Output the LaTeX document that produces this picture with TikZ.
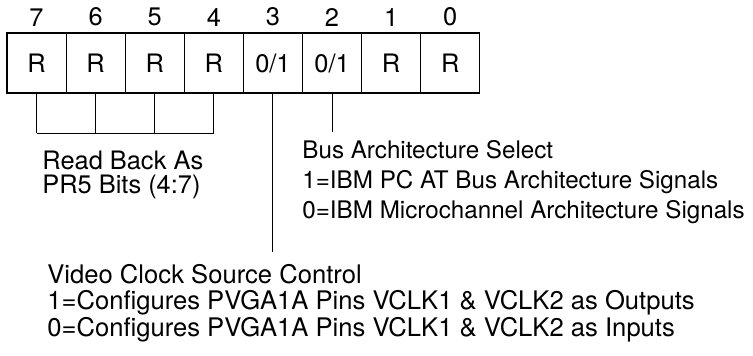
\documentclass[tikz,border=0pt]{standalone}
\usepackage{fontspec}
\setmainfont{TeX Gyre Heros}
\usetikzlibrary{positioning,calc}
\tikzset{
  bitcell/.style={draw, line width=0.6pt, minimum width=29.55pt, minimum height=30pt, inner sep=0pt},
  bitnum/.style={inner sep=0pt},
  lead/.style={line width=0.5pt},
  note/.style={inner sep=0pt, anchor=west, align=left}
}

\begin{document}
\begin{tikzpicture}[x=0.5pt, y=-0.5pt, font=\fontsize{12.7}{15}\selectfont]
\useasboundingbox (0,0) rectangle (753,355);
% register bits 7 .. 0
\foreach \b/\v [count=\i from 0] in {7/R,6/R,5/R,4/R,3/0\slash 1,2/0\slash 1,1/R,0/R} {
  \node[bitcell] (c\b) at ({7+59.1*(\i+0.5)},63) {\v};
  \node[bitnum, above=3pt of c\b] (n\b) {\b};
}
% bits 7-4 read back
\coordinate (r7) at (c7.south |- 0,133);
\coordinate (r4) at (c4.south |- 0,133);
\foreach \b in {7,6,5,4}
  \draw[lead] (c\b.south) -- (c\b.south |- r7);
\draw[lead] (r7) -- (r4);
\node[note, font=\fontsize{12.7}{11.8}\selectfont] (readback) at (42,175) {Read Back As\\PR5 Bits (4:7)};
% bit 2
\coordinate (e2) at (c2.south |- 0,132);
\draw[lead] (c2.south) -- (e2);
\node[note, font=\fontsize{12.1}{15}\selectfont] (busarch) at (302,182) {Bus Architecture Select\\1=IBM PC AT Bus Architecture Signals\\0=IBM Microchannel Architecture Signals};
% bit 3
\coordinate (e3) at (c3.south |- 0,252);
\draw[lead] (c3.south) -- (e3);
\node[note, font=\fontsize{12.8}{13.3}\selectfont] (vclk) at (47,303) {Video Clock Source Control\\1=Configures PVGA1A Pins VCLK1 \& VCLK2 as Outputs\\0=Configures PVGA1A Pins VCLK1 \& VCLK2 as Inputs};
\end{tikzpicture}
\end{document}
